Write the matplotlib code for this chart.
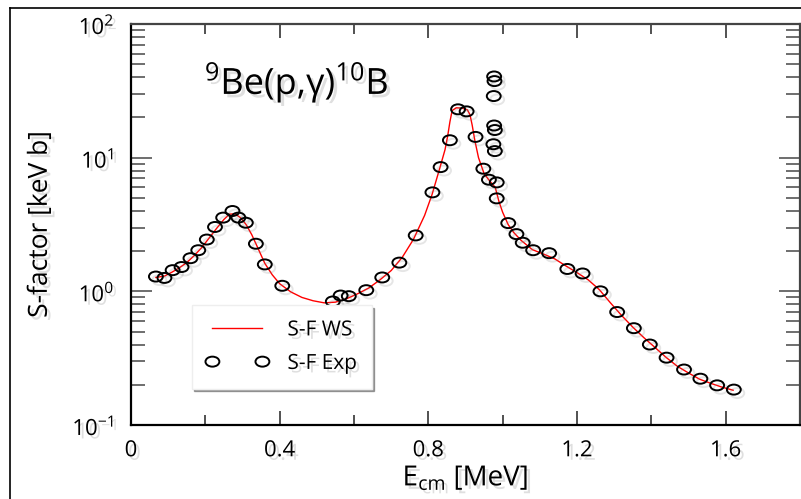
import numpy as np
import matplotlib
matplotlib.use("Agg")
import matplotlib.pyplot as plt
from matplotlib.path import Path
from matplotlib.transforms import Affine2D
from matplotlib.lines import Line2D
import matplotlib.patheffects as pe
from matplotlib.ticker import MultipleLocator, LogLocator

plt.rcParams['font.family'] = ['Open Sans', 'DejaVu Sans']
plt.rcParams['mathtext.fontset'] = 'custom'
plt.rcParams['mathtext.rm'] = 'Open Sans'
plt.rcParams['mathtext.it'] = 'Open Sans'

# ---- data ----
exp_E = [0.067, 0.090, 0.112, 0.136, 0.160, 0.181, 0.204, 0.226, 0.248, 0.273,
         0.289, 0.309, 0.336, 0.360, 0.407, 0.543, 0.564, 0.586, 0.633, 0.676,
         0.722, 0.766, 0.811, 0.833, 0.858, 0.880, 0.903, 0.927, 0.948, 0.963,
         0.984, 0.984, 0.977, 0.978, 0.976, 0.977, 0.979, 0.975, 0.979,
         1.015, 1.037, 1.054, 1.082, 1.125, 1.174, 1.215, 1.263, 1.308, 1.353,
         1.396, 1.441, 1.488, 1.532, 1.577, 1.622]
exp_S = [1.29, 1.26, 1.44, 1.52, 1.77, 2.03, 2.44, 3.03, 3.56, 3.99,
         3.56, 3.26, 2.27, 1.59, 1.10, 0.84, 0.93, 0.92, 1.02, 1.27,
         1.64, 2.62, 5.5, 8.5, 13.5, 23.0, 22.2, 14.3, 8.27, 6.84,
         6.53, 4.96, 40.5, 37.4, 28.9, 17.4, 16.1, 12.6, 11.2,
         3.24, 2.68, 2.31, 2.03, 1.93, 1.47, 1.36, 1.00, 0.70, 0.53,
         0.40, 0.319, 0.260, 0.222, 0.198, 0.184]

ws_E = [0.067, 0.09, 0.11, 0.13, 0.15, 0.17, 0.19, 0.21, 0.23, 0.25,
        0.265, 0.28, 0.295, 0.31, 0.325, 0.34, 0.36, 0.38, 0.40, 0.43,
        0.46, 0.49, 0.52, 0.55, 0.58, 0.61, 0.64, 0.67, 0.70, 0.73,
        0.76, 0.79, 0.81, 0.83, 0.845, 0.852, 0.858, 0.864, 0.875, 0.89,
        0.905, 0.912, 0.918, 0.925, 0.935, 0.95, 0.965, 0.98, 0.99, 1.00,
        1.015, 1.03, 1.05, 1.08, 1.11, 1.14, 1.17, 1.20, 1.23, 1.26,
        1.29, 1.32, 1.35, 1.38, 1.41, 1.44, 1.47, 1.50, 1.53, 1.56,
        1.59, 1.62]
ws_S = [1.27, 1.30, 1.39, 1.50, 1.64, 1.85, 2.12, 2.50, 2.95, 3.45,
        3.78, 3.80, 3.55, 3.15, 2.65, 2.15, 1.62, 1.33, 1.14, 0.99,
        0.90, 0.85, 0.82, 0.83, 0.88, 0.96, 1.06, 1.22, 1.43, 1.80,
        2.45, 3.7, 5.3, 8.2, 11.5, 14.5, 18.5, 22.5, 23.6, 23.5,
        22.8, 21.0, 17.5, 13.5, 10.0, 7.6, 6.7, 6.0, 4.7, 3.9,
        3.15, 2.75, 2.40, 2.05, 1.90, 1.75, 1.55, 1.38, 1.22, 1.03,
        0.82, 0.66, 0.54, 0.45, 0.38, 0.32, 0.275, 0.245, 0.22, 0.205,
        0.192, 0.182]

x_ticks = [0, 0.4, 0.8, 1.2, 1.6]
x_ticklabels = ["0", "0.4", "0.8", "1.2", "1.6"]

# ---- figure ----
fig = plt.figure(figsize=(8.01, 4.99), dpi=100)
ax = fig.add_axes([131/801, 1-425/499, 669/801, 401/499])

shadow_line = [pe.SimpleLineShadow(offset=(2.5, -2.5), shadow_color='gray', alpha=0.2), pe.Normal()]
shadow_text = [pe.withSimplePatchShadow(offset=(2.5, -2.5), shadow_rgbFace='gray', alpha=0.25)]

ell = Path.unit_circle().transformed(Affine2D().scale(1.0, 0.72))

ax.plot(ws_E, ws_S, color='red', lw=1.0, label='S-F WS', zorder=2)
ax.plot(exp_E, exp_S, linestyle='none', marker=ell, markersize=10,
        markerfacecolor='none', markeredgecolor='black', markeredgewidth=1.4,
        label='S-F Exp', zorder=3, path_effects=shadow_line)

ax.set_yscale('log')
ax.set_xlim(0, 1.8)
ax.set_ylim(0.1, 100)

ax.set_xticks(x_ticks)
ax.set_xticklabels(x_ticklabels)
ax.xaxis.set_minor_locator(MultipleLocator(0.2))
ax.yaxis.set_major_locator(LogLocator(base=10, numticks=10))
ax.yaxis.set_minor_locator(LogLocator(base=10, subs=np.arange(2, 10), numticks=20))

ax.tick_params(axis='x', which='both', direction='in', top=True, bottom=True,
               labelsize=16, pad=11, color='#333333')
ax.tick_params(axis='x', which='major', length=10, width=1.2)
ax.tick_params(axis='x', which='minor', length=7, width=1.2)
ax.tick_params(axis='y', which='both', direction='in', left=True, right=True,
               labelsize=16, pad=12, color='#555555')
ax.tick_params(axis='y', which='major', length=15, width=1.2)
ax.tick_params(axis='y', which='minor', length=10, width=1.2)

for lab in ax.get_xticklabels() + ax.get_yticklabels():
    lab.set_path_effects(shadow_text)

for s in ['left', 'bottom']:
    ax.spines[s].set_linewidth(1.6)
    ax.spines[s].set_color('black')
for s in ['top', 'right']:
    ax.spines[s].set_linewidth(1.6)
    ax.spines[s].set_color('#444444')

ax.set_xlabel(r'E$_{\mathregular{cm}}$ [MeV]', fontsize=20, labelpad=2,
              path_effects=shadow_text)
ax.set_ylabel('S-factor [keV b]', fontsize=19, labelpad=14,
              path_effects=shadow_text)

ax.text(0.11, 0.825, r'$\mathregular{^{9}}$Be(p,γ)$\mathregular{^{10}}$B',
        transform=ax.transAxes, fontsize=26, va='baseline',
        path_effects=shadow_text)

leg = ax.legend(loc='lower left', bbox_to_anchor=(0.075, 0.065), fontsize=15,
                numpoints=2, handlelength=3.0, handletextpad=0.9,
                borderpad=0.7, labelspacing=0.6, frameon=True, fancybox=False,
                shadow=True, framealpha=1.0, edgecolor='#eeeeee')
for t in leg.get_texts():
    t.set_path_effects(shadow_text)
for h in leg.legend_handles:
    h.set_path_effects([pe.Normal()])

# outer frame lines
fig.add_artist(Line2D([10/801, 10/801], [0, 1-8/499], color='black', lw=1.2,
                      transform=fig.transFigure))
fig.add_artist(Line2D([10/801, 1], [1-8/499, 1-8/499], color='black', lw=1.2,
                      transform=fig.transFigure))

fig.savefig('out.png', dpi=100)
